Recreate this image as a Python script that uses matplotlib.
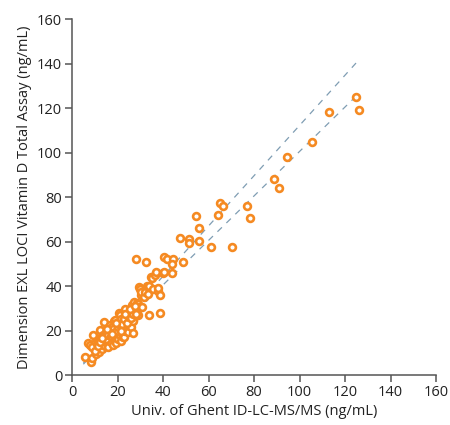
import numpy as np
import matplotlib
matplotlib.use("Agg")
import matplotlib.pyplot as plt

plt.rcParams['font.family'] = ['Open Sans', 'DejaVu Sans']

# reference method (x) vs. test assay (y), ng/mL
ghent = [
    5.5, 8.5, 9.0, 7.2, 8.0, 9.4, 10.0, 10.5, 11.0, 11.5, 12.0, 12.0, 12.3, 12.3, 12.5,
    13.0, 13.0, 13.5, 14.1, 14.0, 14.5, 15.0, 15.0, 15.3, 15.5, 16.0, 16.0, 16.7, 16.5,
    17.0, 17.0, 17.5, 18.0, 18.0, 18.5, 18.5, 18.8, 18.9, 19.0, 19.0, 19.5, 19.5, 20.0,
    20.0, 20.5, 20.7, 21.0, 21.0, 21.1, 21.5, 21.5, 22.0, 22.0, 22.1, 22.5, 22.5, 22.6,
    22.9, 23.0, 23.3, 23.5, 24.0, 24.0, 24.3, 24.5, 24.6, 24.8, 25.0, 25.0, 25.5, 26.0,
    26.2, 26.4, 26.9, 26.9, 27.0, 27.4, 28.1, 28.4, 29.0, 29.0, 30.0, 30.8,
    9.0, 10.0, 11.0, 11.5, 12.5, 13.5, 14.0, 15.0, 16.0, 17.0, 17.5, 18.0, 19.0, 20.0,
    21.0, 22.0, 23.0, 24.0, 25.0, 26.0, 27.0, 28.0, 13.0, 15.5, 17.5, 19.5, 21.5, 23.5,
    25.5, 27.5,
    29.6, 29.7, 30.3, 30.5, 31.5, 32.1, 33.1, 33.3, 33.8, 34.0, 34.7, 35.0, 35.8, 36.5,
    37.1, 37.6, 37.9, 38.8, 38.8, 40.2, 40.6, 44.0,
    28.1, 32.7, 40.6, 41.6, 44.2, 44.1, 49.0,
    47.4, 51.4, 51.4, 55.7, 61.1, 70.3,
    54.6, 55.8, 64.9, 66.4, 64.2, 76.8, 78.4,
    88.8, 91.1, 94.6, 105.6, 112.8, 124.7, 126.3,
]
exl = [
    8.0, 6.0, 7.5, 14.2, 13.5, 18.0, 14.5, 9.5, 12.0, 15.0, 13.0, 10.5, 20.2, 15.7, 16.5,
    14.0, 11.5, 18.0, 23.7, 15.5, 13.0, 17.0, 19.5, 18.7, 14.5, 16.0, 12.5, 22.5, 18.0,
    15.0, 20.0, 17.0, 19.0, 13.5, 24.5, 16.0, 24.7, 17.2, 21.0, 17.5, 14.5, 22.5, 19.0,
    16.0, 23.0, 27.7, 20.5, 18.0, 27.2, 25.0, 15.5, 21.5, 19.0, 18.7, 24.0, 17.0, 24.0,
    16.9, 22.0, 29.5, 20.0, 26.0, 21.0, 19.6, 19.5, 26.0, 27.0, 27.0, 23.0, 25.0, 21.5,
    31.5, 28.8, 24.7, 18.7, 24.5, 33.0, 28.9, 32.2, 31.9, 27.0, 30.5, 30.7,
    12.5, 11.0, 14.0, 13.0, 15.0, 16.5, 17.5, 16.0, 18.0, 17.5, 21.5, 20.5, 19.5, 21.5,
    22.5, 23.0, 25.0, 23.5, 26.0, 25.5, 27.5, 27.5, 16.5, 20.5, 18.5, 23.5, 20.0, 27.5,
    29.5, 31.0,
    39.7, 38.7, 35.8, 37.4, 35.2, 37.3, 40.0, 36.4, 27.1, 40.0, 43.9, 43.7, 38.5, 44.9,
    46.1, 37.9, 39.0, 36.1, 27.7, 45.7, 46.1, 46.0,
    52.3, 50.9, 53.2, 52.3, 52.1, 49.7, 50.7,
    61.5, 61.3, 59.3, 60.2, 57.4, 57.4,
    71.3, 66.3, 77.3, 75.9, 72.0, 76.1, 70.8,
    88.2, 83.9, 98.0, 104.9, 118.2, 125.1, 119.2,
]

# dashed reference lines (x range, slope, intercept)
line_x = [5, 126]
upper_fit = (1.13, -0.8)
lower_fit = (1.0, 0.5)

fig = plt.figure(figsize=(4.5, 4.25), dpi=100)
ax = fig.add_axes([0.16, 0.1176, 0.809, 0.8374])

xs = np.array(line_x)
for slope, icpt in (upper_fit, lower_fit):
    ax.plot(xs, slope * xs + icpt, color='#7f9db3', lw=0.9,
            dashes=(5, 5), zorder=1)

ax.scatter(ghent, exl, s=24, facecolors='white', edgecolors='#f58a22',
           linewidths=1.9, zorder=2)

ax.set_xlim(0, 160)
ax.set_ylim(0, 160)
ax.set_xticks(np.arange(0, 161, 20))
ax.set_yticks(np.arange(0, 161, 20))
for side in ('top', 'right'):
    ax.spines[side].set_visible(False)
for side in ('left', 'bottom'):
    ax.spines[side].set_color('#555555')
    ax.spines[side].set_linewidth(1.1)
ax.tick_params(direction='out', length=5, width=1.1, color='#555555',
               labelsize=10.5, labelcolor='#222222', pad=2)

ax.set_xlabel('Univ. of Ghent ID-LC-MS/MS (ng/mL)', fontsize=10.5,
              color='#222222', labelpad=3)
ax.set_ylabel('Dimension EXL LOCI Vitamin D Total Assay (ng/mL)', fontsize=10.5,
              color='#222222', labelpad=4)

fig.savefig('out.png', dpi=100)
